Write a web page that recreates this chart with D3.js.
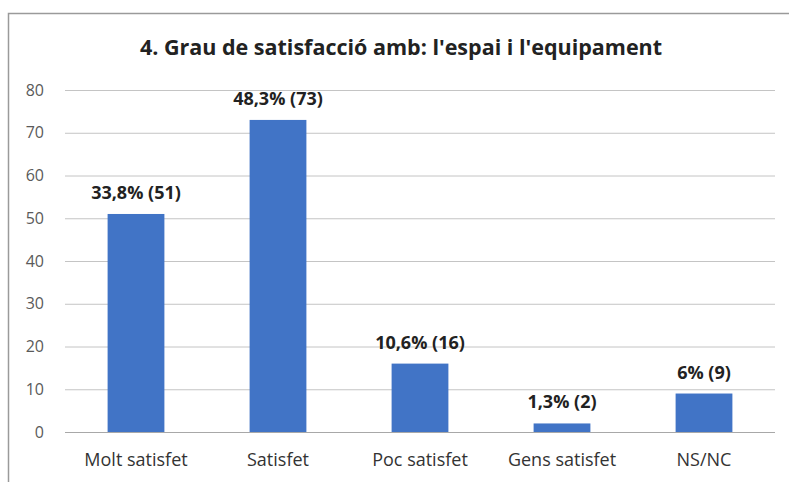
<!DOCTYPE html>
<html>
<head>
<meta charset="utf-8">
<script src="https://cdn.jsdelivr.net/npm/d3@7"></script>
<style>
  body { margin: 0; background: #fff; }
  svg { display: block; }
</style>
</head>
<body>
<div id="chart"></div>
<script>
const categories = ["Molt satisfet", "Satisfet", "Poc satisfet", "Gens satisfet", "NS/NC"];
const counts = [51, 73, 16, 2, 9];
const labels = ["33,8% (51)", "48,3% (73)", "10,6% (16)", "1,3% (2)", "6% (9)"];
const yTicks = [0, 10, 20, 30, 40, 50, 60, 70, 80];
const title = "4. Grau de satisfacció amb: l'espai i l'equipament";

const width = 789, height = 482;
const margins = { top: 90, right: 14, bottom: 50, left: 65 };
const fontFamily = "'Open Sans', 'Noto Sans', sans-serif";

const svg = d3.select("#chart")
    .append("svg")
    .attr("width", width)
    .attr("height", height);

// outer chart frame (only top and left edges are visible in the crop)
svg.append("path")
    .attr("d", `M8.5,${height} V13.5 H${width}`)
    .attr("fill", "none")
    .attr("stroke", "#9a9a9a")
    .attr("stroke-width", 1.5);

const x = d3.scaleBand()
    .domain(categories)
    .range([margins.left, width - margins.right])
    .paddingInner(0.6)
    .paddingOuter(0.3);

const y = d3.scaleLinear()
    .domain([0, 80])
    .range([height - margins.bottom, margins.top]);

// gridlines + y labels
const gy = svg.append("g")
    .attr("transform", `translate(${margins.left},0)`)
    .call(d3.axisLeft(y).tickValues(yTicks).tickSize(-(width - margins.right - margins.left)).tickPadding(21))
    .call(g => g.select(".domain").remove());

gy.selectAll(".tick line")
    .attr("stroke", d => d === 0 ? "#a8a8a8" : "#c4c4c4")
    .attr("stroke-width", 1);
gy.selectAll(".tick text")
    .attr("fill", "#5a5a5a")
    .style("font", `16px ${fontFamily}`);

// bars
svg.append("g")
    .selectAll("rect")
    .data(categories)
    .join("rect")
    .attr("x", d => x(d))
    .attr("y", (d, i) => y(counts[i]))
    .attr("width", x.bandwidth())
    .attr("height", (d, i) => y(0) - y(counts[i]))
    .attr("fill", "#4174c6");

// value labels
svg.append("g")
    .selectAll("text")
    .data(categories)
    .join("text")
    .attr("x", d => x(d) + x.bandwidth() / 2)
    .attr("y", (d, i) => y(counts[i]) - 15)
    .attr("text-anchor", "middle")
    .attr("fill", "#222")
    .style("font", `bold 18px ${fontFamily}`)
    .text((d, i) => labels[i]);

// category labels
const gx = svg.append("g")
    .attr("transform", `translate(0,${height - margins.bottom})`)
    .call(d3.axisBottom(x).tickSize(0).tickPadding(21))
    .call(g => g.select(".domain").remove());

gx.selectAll(".tick text")
    .attr("fill", "#333")
    .style("font", `18px ${fontFamily}`);

// title
svg.append("text")
    .attr("x", 401)
    .attr("y", 55)
    .attr("text-anchor", "middle")
    .attr("fill", "#222")
    .style("font", `bold 21.5px ${fontFamily}`)
    .text(title);
</script>
</body>
</html>
